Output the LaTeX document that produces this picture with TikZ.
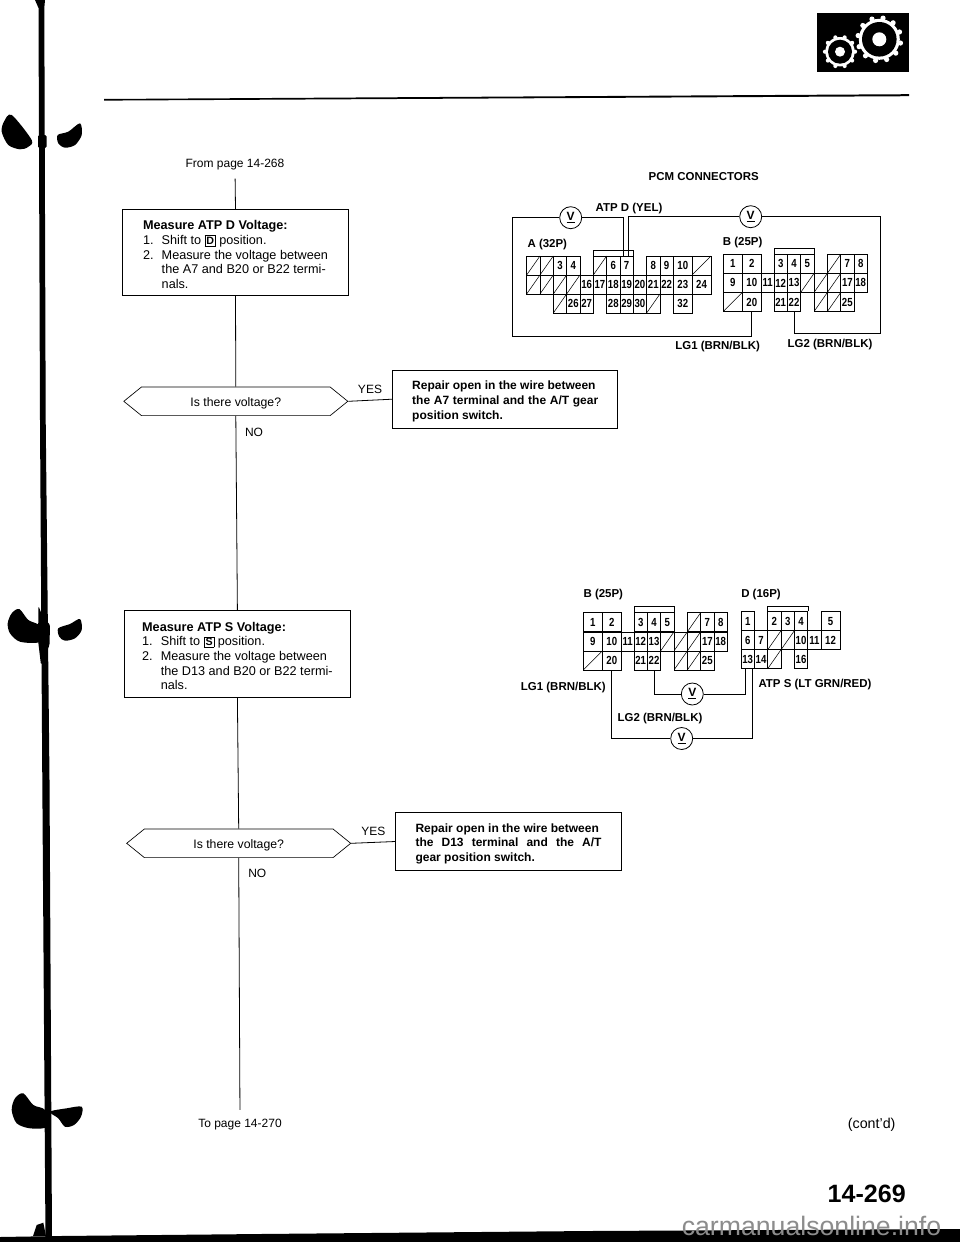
\documentclass[tikz,border=0pt]{standalone}
\usepackage{fontspec}
\setmainfont{Liberation Sans}
\newfontfamily\pinfont{Liberation Sans}[FakeStretch=.82,BoldFeatures={FakeStretch=.82}]
\usetikzlibrary{shapes.symbols}

\newcommand{\stepnum}[1]{\makebox[14pt][l]{#1}}
\newcommand{\shiftkey}[1]{{\setlength{\fboxsep}{.8pt}\setlength{\fboxrule}{.5pt}\fbox{\footnotesize\textbf{#1}}}}
\newcommand{\fitline}[1]{\makebox[139.5pt][s]{#1}}
\newcommand{\firstline}{\rule{0pt}{10pt}}

\tikzset{
    wire/.style={line width=.75pt},
    flow/.style={line width=.6pt},
    inkfill/.style={fill=black},
    pincell/.style={draw,line width=.4pt,minimum width=10pt,minimum height=14.3pt,inner sep=0pt,
        font=\fontsize{8.8}{9}\pinfont\bfseries\selectfont},
    pinwide/.style={pincell,minimum width=14.2pt},
    hatchcell/.style={pincell,path picture={\draw (path picture bounding box.south west) -- (path picture bounding box.north east);}},
    hatchwide/.style={hatchcell,minimum width=14.2pt},
    voltmeter/.style={circle,draw,line width=.6pt,fill=white,minimum size=16.5pt,inner sep=0pt,
        font=\fontsize{9}{10}\bfseries\selectfont},
    wirelabel/.style={inner sep=0pt,font=\fontsize{8.6}{10}\bfseries\selectfont},
    pagetext/.style={inner sep=0pt,font=\fontsize{9}{11}\selectfont},
    stepbox/.style={draw,line width=.7pt,align=left,inner sep=0pt,minimum width=169.2pt,minimum height=64.8pt,
        font=\fontsize{9.5}{11}\selectfont},
    fixbox/.style={draw,line width=.7pt,align=left,inner sep=0pt,minimum width=169pt,minimum height=43.5pt,
        font=\fontsize{9}{11}\bfseries\selectfont},
    askbox/.style={signal,signal to=east and west,signal from=nowhere,signal pointer angle=78,draw,line width=.5pt,
        inner sep=0pt,minimum width=168pt,minimum height=21.5pt,text height=9pt,text depth=1.9pt,
        font=\fontsize{9.2}{11}\selectfont},
    gearpart/.style={fill=white},
    bplug/.pic={
        \foreach \n/\c/\r in {3/0/0,4/1/0,5/2/0,12/0/1,13/1/1,21/0/2,22/1/2,7/5/0,8/6/0,17/5/1,18/6/1}
            \node[pincell] (\n) at ({57.4+\c*13.33},{9.5+\r*19.1}) {\n};
        \foreach \n/\c/\r in {1/0/0,2/1/0,9/0/1,10/1/1,20/1/2}
            \node[pinwide] (\n) at ({9.5+\c*19},{9.5+\r*19.1}) {\n};
        \node[pincell] (11) at (44.4,28.6) {11};
        \node[pincell] (25) at (124,47.7) {25};
        \node[hatchwide] (x20) at (9.5,47.7) {};
        \foreach \c/\r in {4/0,2/1,3/1,4/1,3/2,4/2}
            \node[hatchcell] (x\c\r) at ({57.4+\c*13.33},{9.5+\r*19.1}) {};
        \draw[line width=.4pt] (3.north west) -- ++(0,-6) -| (5.north east);
    }
}

\begin{document}
\begin{tikzpicture}[x=.75pt,y=-.75pt]
    \useasboundingbox (0,0) rectangle (960,1242);

    % binding edge and page furniture
    \fill[inkfill] (35,0) -- (45,0) -- (44.3,8) -- (45.7,420) -- (49.5,780) -- (52,1240) -- (45.5,1240) -- (42.3,780) -- (40,420) -- (38.5,8) -- cycle;
    \fill[inkfill,rounded corners=1pt] (38,135) -- (46.5,135) -- (46.5,148) -- (38,148) -- cycle;
    \fill[inkfill,rounded corners=1pt] (38.5,606) -- (42,615) -- (50,625) -- (49.5,645) -- (41,665) -- (38,640) -- cycle;
    \fill[inkfill] plot[smooth cycle,tension=.5] coordinates {(11.7,115) (31.7,140) (28,147) (20,149.3) (8.3,145) (1.7,131.7) (4,121.7)};
    \fill[inkfill] plot[smooth cycle,tension=.5] coordinates {(80,123.3) (81.7,135) (75,145) (65,147.7) (58.3,143.3) (57.7,135) (68.3,131.7)};
    \fill[inkfill] plot[smooth cycle,tension=.5] coordinates {(19.3,609) (28.3,620) (40,626) (40,641.7) (20,641.7) (10,633.3) (7.7,623.3) (11.7,613.3)};
    \fill[inkfill] plot[smooth cycle,tension=.5] coordinates {(80,619) (81.7,630) (75,638.3) (65,640.7) (59.3,636.7) (58.3,628.3) (70,624)};
    \fill[inkfill] plot[smooth cycle,tension=.5] coordinates {(23.3,1093.3) (33.3,1105) (45,1110) (47,1126.7) (30,1128.3) (16.7,1123.3) (11.7,1110) (15,1098.3)};
    \fill[inkfill] plot[smooth cycle,tension=.5] coordinates {(81.7,1106.7) (81,1116.7) (74,1125) (65,1126.7) (58.3,1118.3) (50,1111.7) (66.7,1108.3)};
    \fill[inkfill] (33,1236) -- (36.7,1225) -- (43.3,1222.7) -- (46,1236) -- cycle;
    \fill[inkfill] (0,1242) -- (0,1237) -- (60,1236) -- (260,1234) -- (590,1231) -- (960,1229) -- (960,1242) -- cycle;
    \fill[inkfill] (104,99) -- (909,94.2) -- (909,96.2) -- (104,100.6) -- cycle;

    % gear badge
    \fill[inkfill] (816.7,12.7) rectangle (909,72);
    \foreach \a in {0,30,...,330}
        \fill[gearpart] (879.3,39.3) ++(\a+10:21.5) circle [radius=2.6];
    \foreach \a in {0,36,...,324}
        \fill[gearpart] (840,51.7) ++(\a:15) circle [radius=2.1];
    \fill[gearpart] (879.3,39.3) circle [radius=20.5];
    \fill[inkfill] (879.3,39.3) circle [radius=17.3];
    \fill[gearpart] (879.3,39.3) circle [radius=7];
    \fill[gearpart] (840,51.7) circle [radius=14.7];
    \fill[inkfill] (840,51.7) circle [radius=12];
    \fill[gearpart] (840,51.7) circle [radius=5];

    % flow chart
    \node[pagetext] (fromPage) at (235,164.3) {From page 14-268};
    \node[stepbox] (measureD) at (235.5,252.5) {
        \firstline\textbf{Measure ATP D Voltage:}\\
        \stepnum{1.}Shift to \shiftkey{D} position.\\
        \stepnum{2.}Measure the voltage between\\
        \stepnum{}the A7 and B20 or B22 termi-\\
        \stepnum{}nals.
    };
    \node[askbox] (askD) at (235.8,401.3) {Is there voltage?};
    \node[fixbox] (fixD) at (505.2,399.2) {
        \firstline Repair open in the wire between\\
        \fitline{the A7 terminal and the A/T gear}\\
        position switch.
    };
    \node[stepbox] (measureS) at (237.4,654) {
        \firstline\textbf{Measure ATP S Voltage:}\\
        \stepnum{1.}Shift to \shiftkey{S} position.\\
        \stepnum{2.}Measure the voltage between\\
        \stepnum{}the D13 and B20 or B22 termi-\\
        \stepnum{}nals.
    };
    \node[askbox] (askS) at (238.7,843.3) {Is there voltage?};
    \node[fixbox] (fixS) at (508.5,841.5) {
        \firstline Repair open in the wire between\\
        \fitline{the D13 terminal and the A/T}\\
        gear position switch.
    };
    \node[pagetext] (toPage) at (240,1124.3) {To page 14-270};
    \node[pagetext] (yesD) at (370,389) {YES};
    \node[pagetext] (noD) at (254,432) {NO};
    \node[pagetext] (yesS) at (373.3,831.3) {YES};
    \node[pagetext] (noS) at (257.3,873.3) {NO};

    \draw[flow,shorten <=6.5pt] (fromPage.south) -- (measureD.north);
    \draw[flow] (measureD.south) -- (askD.north);
    \draw[flow] (askD.south) -- (measureS.north);
    \draw[flow] (measureS.south) -- (askS.north);
    \draw[flow,shorten >=6.5pt] (askS.south) -- (toPage.north);
    \draw[flow] (askD.east) -- (fixD.west);
    \draw[flow] (askS.east) -- (fixS.west);

    % PCM connectors, top
    \node[wirelabel] (pcmTitle) at (703.7,176.7) {PCM CONNECTORS};
    \node[wirelabel] (atpD) at (629,208.3) {ATP D (YEL)};
    \node[wirelabel] (plugA) at (547.3,245) {A (32P)};
    \node[wirelabel] (plugB) at (742.7,242.3) {B (25P)};
    \node[wirelabel] (lgOne) at (717.7,346.7) {LG1 (BRN/BLK)};
    \node[wirelabel] (lgTwo) at (830,345) {LG2 (BRN/BLK)};

    \foreach \n/\c/\r in {3/2/0,4/3/0,6/6/0,7/7/0,8/9/0,9/10/0,16/4/1,17/5/1,18/6/1,19/7/1,20/8/1,21/9/1,22/10/1,26/3/2,27/4/2,28/6/2,29/7/2,30/8/2}
        \node[pincell] (A\n) at ({533.3+\c*13.33},{265.5+\r*19}) {\n};
    \foreach \c/\r in {0/0,1/0,5/0,0/1,1/1,2/1,3/1,2/2,9/2}
        \node[hatchcell] (Ax\c\r) at ({533.3+\c*13.33},{265.5+\r*19}) {};
    \node[pinwide] (A10) at (682.8,265.5) {10};
    \node[hatchwide] (Ax120) at (701.5,265.5) {};
    \node[pinwide] (A23) at (682.8,284.5) {23};
    \node[pinwide] (A24) at (701.5,284.5) {24};
    \node[pinwide] (A32) at (682.8,303.5) {32};
    \draw[line width=.4pt] (Ax50.north west) -- ++(0,-5) -| (A7.north east);

    \pic (Bt) at (723.3,254.3) {bplug};

    \node[voltmeter] (VmA) at (570.7,217.7) {\underline{V}};
    \node[voltmeter] (VmB) at (750.7,216.7) {\underline{V}};
    \coordinate (cornA) at (512.3,336);
    \coordinate (cornB) at (880,333);
    \draw[wire] (VmA) -| (cornA) -| (Bt20.south);
    \draw[wire] (VmA) -| ([xshift=-2pt]A7.north);
    \draw[wire] (VmB) -| ([xshift=1.2pt]A7.north);
    \draw[wire] (VmB) -| (cornB) -| (Bt22.south);

    % B and D connectors, lower
    \node[wirelabel] (plugBlow) at (603.3,595) {B (25P)};
    \node[wirelabel] (plugD) at (761,594.3) {D (16P)};
    \node[wirelabel] (lgOneLow) at (563.3,687.3) {LG1 (BRN/BLK)};
    \node[wirelabel] (atpS) at (815,685) {ATP S (LT GRN/RED)};
    \node[wirelabel] (lgTwoLow) at (660,718.3) {LG2 (BRN/BLK)};

    \pic (Bl) at (583.3,612.7) {bplug};

    \foreach \n/\c/\r in {1/0/0,2/2/0,3/3/0,4/4/0,6/0/1,7/1/1,10/4/1,11/5/1,13/0/2,14/1/2,16/4/2}
        \node[pincell] (D\n) at ({747.7+\c*13.33},{621.2+\r*19}) {\n};
    \foreach \c/\r in {2/1,3/1,2/2}
        \node[hatchcell] (Dx\c\r) at ({747.7+\c*13.33},{621.2+\r*19}) {};
    \node[pinwide] (D5) at (830.5,621.2) {5};
    \node[pinwide] (D12) at (830.5,640.2) {12};
    \draw[line width=.4pt] (D2.north west) -- ++(0,-5) -| (D4.north east);

    \node[voltmeter] (VmC) at (692.3,694) {\underline{V}};
    \node[voltmeter] (VmD) at (681.7,738.5) {\underline{V}};
    \draw[wire] (VmC) -| (Bl22.south);
    \draw[wire] (VmC) -| ([xshift=-2pt]D13.south);
    \draw[wire] (VmD) -| (Bl20.south);
    \draw[wire] (VmD) -| ([xshift=3.5pt]D13.south);

    % page number
    \node[inner sep=0pt,font=\fontsize{10.7}{12}\selectfont] (contd) at (871.7,1124.3) {(cont'd)};
    \node[inner sep=0pt,font=\fontsize{18.8}{20}\bfseries\selectfont] (pageNo) at (866.7,1194.3) {14-269};
    \node[inner sep=0pt,text=black!45,font=\fontsize{20}{22}\selectfont] (siteMark) at (811.5,1226) {carmanualsonline.info};
\end{tikzpicture}
\end{document}
